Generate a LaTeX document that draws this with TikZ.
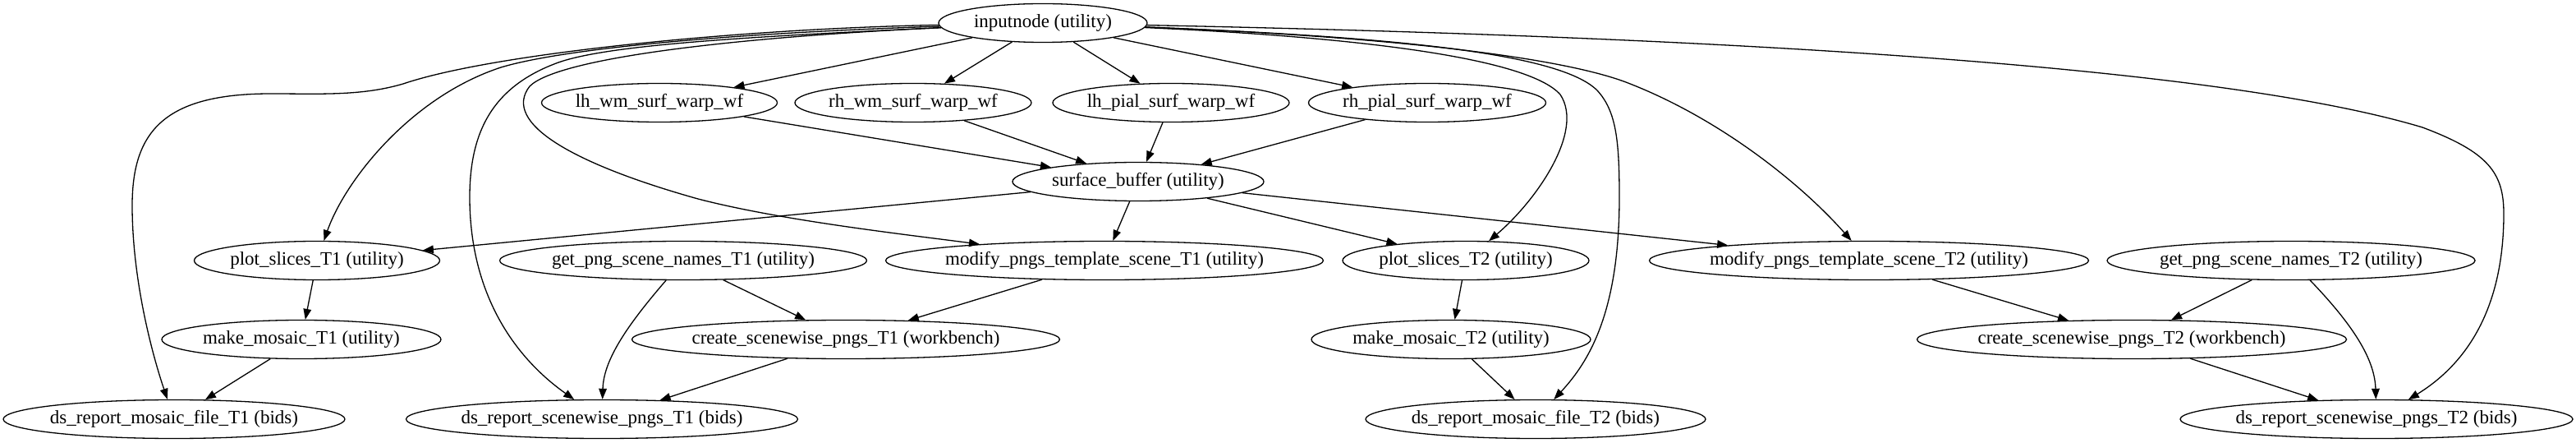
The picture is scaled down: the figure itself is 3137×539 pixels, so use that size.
\documentclass[tikz,border=0pt]{standalone}
\usepackage{fontspec}
\setmainfont{Liberation Serif}
\usetikzlibrary{arrows.meta,shapes.geometric}
\newcommand{\nlbl}[1]{\makebox[0pt]{#1}}
\begin{document}
\begin{tikzpicture}[x=0.5pt,y=-0.5pt,line width=0.65pt,
  proc/.style={ellipse,draw,inner sep=0pt,minimum height=23.5pt,
    font=\fontsize{11.5}{13}\selectfont},
  edge/.style={-{Triangle[length=6.5pt,width=4.8pt]}}]
  \useasboundingbox (0,0) rectangle (3137,539);
  % top: input and the four warps
  \node[proc,minimum width=127pt] (in) at (1270,28) {\nlbl{inputnode (utility)}};
  \node[proc,minimum width=143.5pt] (lhwm) at (803,125) {\nlbl{lh\_wm\_surf\_warp\_wf}};
  \node[proc,minimum width=144pt] (rhwm) at (1112,125) {\nlbl{rh\_wm\_surf\_warp\_wf}};
  \node[proc,minimum width=144pt] (lhpial) at (1426,125) {\nlbl{lh\_pial\_surf\_warp\_wf}};
  \node[proc,minimum width=144.5pt] (rhpial) at (1738,125) {\nlbl{rh\_pial\_surf\_warp\_wf}};
  \node[proc,minimum width=153pt] (sbuf) at (1386,221) {\nlbl{surface\_buffer (utility)}};
  % middle row
  \node[proc,minimum width=149.5pt] (psT1) at (386,317) {\nlbl{plot\_slices\_T1 (utility)}};
  \node[proc,minimum width=223.5pt] (gpT1) at (832,317) {\nlbl{get\_png\_scene\_names\_T1 (utility)}};
  \node[proc,minimum width=266.5pt] (modT1) at (1345,317) {\nlbl{modify\_pngs\_template\_scene\_T1 (utility)}};
  \node[proc,minimum width=150pt] (psT2) at (1785,317) {\nlbl{plot\_slices\_T2 (utility)}};
  \node[proc,minimum width=267.5pt] (modT2) at (2276,317) {\nlbl{modify\_pngs\_template\_scene\_T2 (utility)}};
  \node[proc,minimum width=224pt] (gpT2) at (2790,317) {\nlbl{get\_png\_scene\_names\_T2 (utility)}};
  \node[proc,minimum width=170pt] (mmT1) at (367,413) {\nlbl{make\_mosaic\_T1 (utility)}};
  \node[proc,minimum width=260.5pt] (csT1) at (1030,413) {\nlbl{create\_scenewise\_pngs\_T1 (workbench)}};
  \node[proc,minimum width=170pt] (mmT2) at (1767,413) {\nlbl{make\_mosaic\_T2 (utility)}};
  \node[proc,minimum width=261.5pt] (csT2) at (2596,413) {\nlbl{create\_scenewise\_pngs\_T2 (workbench)}};
  % outputs
  \node[proc,minimum width=208pt] (dsmT1) at (212,510) {\nlbl{ds\_report\_mosaic\_file\_T1 (bids)}};
  \node[proc,minimum width=238.5pt] (dssT1) at (733,510) {\nlbl{ds\_report\_scenewise\_pngs\_T1 (bids)}};
  \node[proc,minimum width=207pt] (dsmT2) at (1870,510) {\nlbl{ds\_report\_mosaic\_file\_T2 (bids)}};
  \node[proc,minimum width=239pt] (dssT2) at (2894,510) {\nlbl{ds\_report\_scenewise\_pngs\_T2 (bids)}};
  % plain edges
  \foreach \a/\b in {in/lhwm,in/rhwm,in/lhpial,in/rhpial,
      lhwm/sbuf,rhwm/sbuf,lhpial/sbuf,rhpial/sbuf,
      sbuf/psT1,sbuf/modT1,sbuf/psT2,sbuf/modT2,
      psT1/mmT1,mmT1/dsmT1,gpT1/csT1,modT1/csT1,csT1/dssT1,
      psT2/mmT2,mmT2/dsmT2,modT2/csT2,gpT2/csT2,csT2/dssT2}
    \draw[edge] (\a) -- (\b);
  % long edges out of inputnode, left side
  \draw[edge] (in) .. controls (900,35) and (600,65) .. (491,102)
    .. controls (440,117) and (390,114) .. (330,114)
    .. controls (200,114) and (161,160) .. (161,250)
    .. controls (161,340) and (185,430) .. (dsmT1);
  \draw[edge] (in) .. controls (900,40) and (690,58) .. (610,82)
    .. controls (500,118) and (420,220) .. (psT1);
  \draw[edge] (in) .. controls (900,45) and (740,55) .. (680,76)
    .. controls (600,105) and (572,160) .. (572,240)
    .. controls (572,350) and (620,430) .. (dssT1);
  \draw[edge] (in) .. controls (900,45) and (680,70) .. (645,105)
    .. controls (610,150) and (700,200) .. (850,242)
    .. controls (950,268) and (1100,285) .. (modT1);
  % long edges out of inputnode, right side
  \draw[edge] (in) .. controls (1650,45) and (1860,70) .. (1900,115)
    .. controls (1930,160) and (1870,245) .. (psT2);
  \draw[edge] (in) .. controls (1700,45) and (1900,65) .. (1945,110)
    .. controls (1968,135) and (1972,170) .. (1972,240)
    .. controls (1972,380) and (1935,440) .. (dsmT2);
  \draw[edge] (in) .. controls (1700,45) and (1900,70) .. (1980,100)
    .. controls (2090,142) and (2190,220) .. (modT2);
  \draw[edge] (in) .. controls (2100,45) and (2700,80) .. (2950,155)
    .. controls (3030,185) and (3049,210) .. (3049,260)
    .. controls (3049,380) and (3000,445) .. (dssT2);
  % scene names straight to the reports
  \draw[edge] (gpT1) .. controls (760,400) and (735,440) .. (dssT1);
  \draw[edge] (gpT2) .. controls (2870,400) and (2892,440) .. (dssT2);
\end{tikzpicture}
\end{document}
